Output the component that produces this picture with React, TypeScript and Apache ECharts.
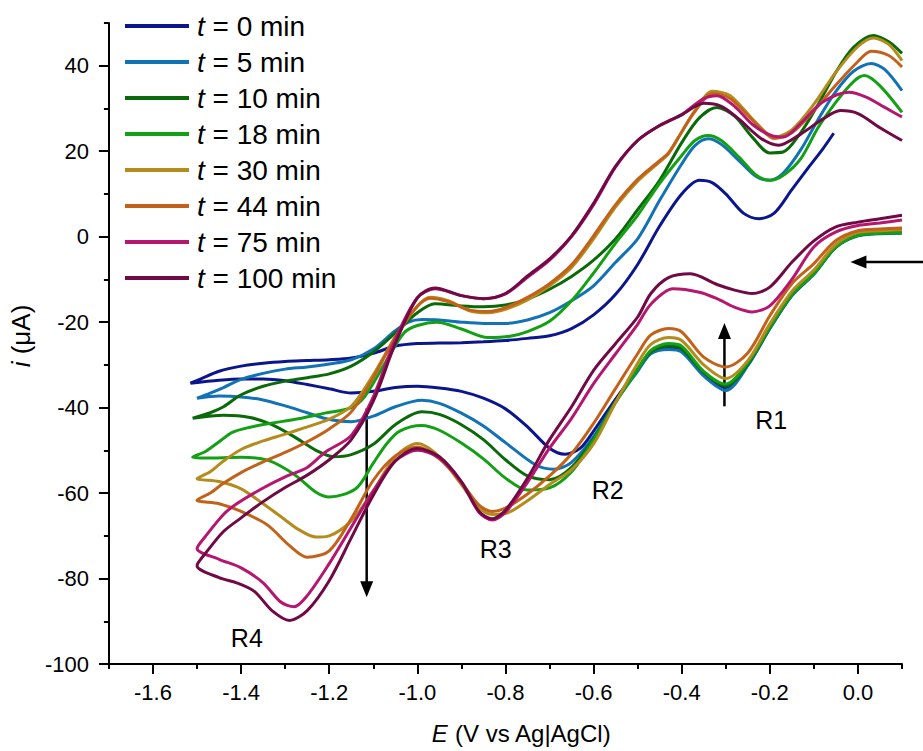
import React, { useEffect, useRef } from "react";
import * as echarts from "echarts";

const FONT = "'Liberation Sans', Arial, Helvetica, sans-serif";

const LEGEND_NAMES = ["t = 0 min", "t = 5 min", "t = 10 min", "t = 18 min", "t = 30 min", "t = 44 min", "t = 75 min", "t = 100 min"];
const COLORS = ["#0c168c", "#1272b6", "#0a6a0a", "#14a014", "#b48c1e", "#c2621a", "#b5166e", "#700a45"];

// forward (cathodic) branch, from 0.1 V to -1.5 V : [E (V), i (µA)]
const T0_FWD = [[0.1, 1.0], [0.05, 0.8], [0.0, 0.3], [-0.05, -2.4], [-0.1, -8.7], [-0.15, -13.8], [-0.2, -21.5], [-0.25, -30], [-0.3, -35.3], [-0.35, -32], [-0.4, -26.6], [-0.43, -26], [-0.47, -27.2], [-0.5, -31], [-0.55, -38], [-0.6, -45.5], [-0.63, -49.5], [-0.665, -50.9], [-0.7, -49.5], [-0.75, -44.5], [-0.8, -40.3], [-0.85, -37.8], [-0.9, -36.2], [-0.95, -35.4], [-1.0, -35], [-1.05, -35.3], [-1.1, -36.2], [-1.15, -36.6], [-1.2, -35.6], [-1.25, -34.6], [-1.3, -33.7], [-1.35, -33.3], [-1.4, -33.3], [-1.45, -33.6], [-1.515, -34.3]];
const T0_REV = [[-1.49, -33.2], [-1.45, -31.5], [-1.4, -30.3], [-1.35, -29.6], [-1.3, -29.2], [-1.25, -29], [-1.2, -28.8], [-1.15, -28.4], [-1.1, -27.3], [-1.05, -25.6], [-1.0, -25], [-0.95, -24.9], [-0.9, -24.8], [-0.85, -24.6], [-0.8, -24.3], [-0.75, -23.8], [-0.7, -23.2], [-0.65, -21.5], [-0.6, -18.3], [-0.55, -13.5], [-0.5, -6.5], [-0.45, 2.5], [-0.4, 10], [-0.36, 13.2], [-0.33, 12.6], [-0.3, 10], [-0.26, 5.5], [-0.225, 4.2], [-0.19, 5.5], [-0.15, 11], [-0.11, 16.5], [-0.08, 20.5], [-0.055, 24.2]];

const T5_FWD = [[0.1, 0.8], [0.05, 0.7], [0.0, 0.2], [-0.05, -2.5], [-0.1, -8.8], [-0.15, -13.8], [-0.2, -21.5], [-0.25, -30.2], [-0.3, -36], [-0.35, -32.6], [-0.4, -27], [-0.43, -26.4], [-0.47, -27.4], [-0.5, -31.5], [-0.55, -38.6], [-0.6, -46.8], [-0.65, -52.8], [-0.69, -54.4], [-0.73, -53.5], [-0.8, -48.2], [-0.85, -44.3], [-0.9, -41.3], [-0.95, -39], [-0.99, -38.3], [-1.05, -39.8], [-1.1, -42], [-1.15, -43.3], [-1.2, -42.8], [-1.25, -41.2], [-1.3, -39.6], [-1.35, -38.2], [-1.4, -37.5], [-1.45, -37.3], [-1.5, -37.8]];
const T5_REV = [[-1.47, -36.6], [-1.44, -35.3], [-1.4, -33.4], [-1.35, -32], [-1.3, -31], [-1.25, -30.5], [-1.2, -29.8], [-1.15, -28.8], [-1.1, -26.3], [-1.05, -22], [-1.02, -20], [-0.99, -19.4], [-0.95, -19.5], [-0.9, -20], [-0.85, -20.3], [-0.8, -20.3], [-0.75, -19.5], [-0.7, -17.8], [-0.65, -15], [-0.6, -11.5], [-0.55, -6], [-0.5, -0.5], [-0.45, 8.5], [-0.4, 17], [-0.37, 21.3], [-0.34, 22.9], [-0.31, 21.6], [-0.27, 17.8], [-0.23, 14], [-0.2, 13.2], [-0.17, 14.8], [-0.13, 20.3], [-0.09, 27.5], [-0.05, 34], [-0.01, 38.7], [0.03, 40.5], [0.06, 39.2], [0.1, 34.2]];

const T10_FWD = [[0.1, 1.0], [0.05, 0.8], [0.0, 0.3], [-0.05, -2.4], [-0.1, -8.6], [-0.15, -13.6], [-0.2, -21.3], [-0.25, -29.8], [-0.3, -35], [-0.35, -31.8], [-0.4, -26.3], [-0.43, -25.6], [-0.47, -27], [-0.5, -31], [-0.55, -38.6], [-0.6, -47.3], [-0.65, -54], [-0.7, -56.9], [-0.75, -56], [-0.8, -52.2], [-0.85, -47.5], [-0.9, -44], [-0.95, -41.6], [-0.99, -41], [-1.05, -44], [-1.1, -48.6], [-1.15, -51], [-1.19, -51.5], [-1.23, -50], [-1.28, -46.8], [-1.33, -44], [-1.38, -42.3], [-1.44, -41.8], [-1.51, -42.5]];
const T10_REV = [[-1.47, -41.2], [-1.44, -39.8], [-1.4, -37], [-1.35, -35], [-1.3, -33.8], [-1.25, -33], [-1.2, -32.1], [-1.15, -30.3], [-1.1, -27], [-1.05, -22.5], [-1.0, -17.8], [-0.96, -15.7], [-0.9, -16.2], [-0.85, -16.4], [-0.8, -16], [-0.75, -14.6], [-0.7, -12.3], [-0.65, -9.3], [-0.6, -5.5], [-0.55, -0.5], [-0.5, 6.3], [-0.45, 13.2], [-0.4, 22], [-0.36, 27.8], [-0.32, 30.2], [-0.28, 28.2], [-0.24, 23.3], [-0.2, 19.6], [-0.17, 19.8], [-0.13, 24.3], [-0.09, 31], [-0.05, 38.5], [-0.01, 44.3], [0.035, 47.1], [0.07, 45.6], [0.1, 42.9]];

const T18_FWD = [[0.1, 0.9], [0.05, 0.8], [0.0, 0.3], [-0.05, -2.4], [-0.1, -8.6], [-0.15, -13.6], [-0.2, -21.2], [-0.25, -29.5], [-0.3, -34.5], [-0.35, -31.5], [-0.4, -25.6], [-0.43, -25], [-0.47, -26.6], [-0.5, -31], [-0.55, -38.8], [-0.6, -47.6], [-0.65, -55], [-0.7, -58.8], [-0.75, -59.3], [-0.8, -56.5], [-0.85, -52], [-0.9, -48.3], [-0.95, -45.3], [-0.99, -44.2], [-1.04, -45.5], [-1.07, -48.5], [-1.1, -53], [-1.14, -59], [-1.2, -60.9], [-1.23, -59.8], [-1.28, -55.6], [-1.34, -52.3], [-1.4, -51.6], [-1.46, -51.8], [-1.51, -51.6]];
const T18_REV = [[-1.48, -50.2], [-1.45, -48], [-1.42, -45.8], [-1.38, -44.6], [-1.34, -43.8], [-1.27, -42.6], [-1.21, -41.3], [-1.15, -40], [-1.12, -37.5], [-1.07, -29], [-1.03, -22.5], [-1.0, -20.8], [-0.955, -20], [-0.9, -21.6], [-0.84, -23.6], [-0.79, -23.3], [-0.75, -22.2], [-0.7, -19.8], [-0.65, -15], [-0.6, -8.5], [-0.55, -1.5], [-0.5, 5], [-0.45, 12.5], [-0.4, 19], [-0.37, 22.5], [-0.34, 23.7], [-0.31, 22.5], [-0.27, 18.6], [-0.23, 14.3], [-0.2, 13.2], [-0.17, 14.3], [-0.13, 18.2], [-0.09, 25.6], [-0.05, 31.5], [-0.01, 36.3], [0.015, 37.7], [0.05, 35.3], [0.1, 29.1]];

const T30_FWD = [[0.1, 1.6], [0.05, 1.4], [0.0, 1.0], [-0.05, -1.8], [-0.1, -7.8], [-0.15, -12.8], [-0.2, -20.4], [-0.25, -29], [-0.3, -33.2], [-0.35, -30], [-0.4, -24.3], [-0.43, -23.6], [-0.47, -25.2], [-0.5, -29.6], [-0.55, -38.8], [-0.6, -48.5], [-0.65, -54.5], [-0.7, -58], [-0.75, -61.8], [-0.8, -64.8], [-0.83, -65], [-0.86, -63.5], [-0.9, -58], [-0.95, -51.5], [-1.0, -48.4], [-1.05, -51.5], [-1.1, -59.5], [-1.15, -66.5], [-1.2, -70], [-1.23, -70.3], [-1.27, -68.5], [-1.31, -65.5], [-1.35, -62.5], [-1.4, -59], [-1.45, -57.3], [-1.5, -56.6]];
const T30_REV = [[-1.47, -55], [-1.44, -52.5], [-1.4, -49.8], [-1.35, -47.8], [-1.3, -46.2], [-1.25, -44.5], [-1.2, -42.7], [-1.15, -39.7], [-1.1, -32.3], [-1.05, -23.5], [-1.0, -16.3], [-0.97, -14.2], [-0.93, -15], [-0.88, -17.4], [-0.84, -17.8], [-0.8, -17], [-0.75, -14.8], [-0.7, -11.5], [-0.65, -7.2], [-0.6, -0.5], [-0.55, 7], [-0.5, 13], [-0.45, 17.5], [-0.43, 19.4], [-0.4, 24.5], [-0.37, 29.5], [-0.33, 34], [-0.29, 33], [-0.23, 26.5], [-0.19, 23.3], [-0.15, 25], [-0.1, 31], [-0.05, 38.5], [0.0, 44.5], [0.035, 46.5], [0.07, 45], [0.1, 41.2]];

const T44_FWD = [[0.1, 2.0], [0.05, 1.8], [0.0, 1.4], [-0.05, -0.9], [-0.1, -6.3], [-0.15, -11], [-0.2, -18.5], [-0.25, -27.2], [-0.3, -30.5], [-0.35, -28.2], [-0.4, -22.3], [-0.43, -21.5], [-0.47, -23], [-0.5, -27.4], [-0.55, -35.5], [-0.6, -43.7], [-0.65, -50.8], [-0.7, -56], [-0.75, -60.2], [-0.8, -63.5], [-0.83, -64.3], [-0.86, -62.8], [-0.9, -57.5], [-0.95, -52], [-1.0, -49.2], [-1.05, -51.3], [-1.1, -57], [-1.15, -66], [-1.2, -73.5], [-1.25, -75], [-1.29, -72.3], [-1.34, -67.5], [-1.4, -64.3], [-1.45, -62.5], [-1.5, -61.7]];
const T44_REV = [[-1.47, -60], [-1.44, -57.7], [-1.4, -55.2], [-1.35, -52.7], [-1.3, -50.5], [-1.25, -48], [-1.2, -45], [-1.15, -41], [-1.1, -33], [-1.05, -23.5], [-1.0, -16.3], [-0.97, -14.4], [-0.93, -15.2], [-0.88, -17.2], [-0.84, -17.5], [-0.8, -16.6], [-0.75, -14.2], [-0.7, -11], [-0.65, -6.6], [-0.6, 0.2], [-0.55, 7.5], [-0.5, 13.4], [-0.45, 17.8], [-0.43, 19.6], [-0.4, 24.5], [-0.37, 29.3], [-0.33, 33.5], [-0.29, 32.3], [-0.23, 26.3], [-0.19, 23], [-0.15, 24.3], [-0.1, 29.5], [-0.05, 35.5], [0.0, 41], [0.03, 43.4], [0.07, 42.4], [0.1, 39.7]];

const T75_FWD = [[0.1, 3.9], [0.05, 3.2], [0.0, 2.6], [-0.05, 1.1], [-0.1, -2.4], [-0.15, -10], [-0.2, -16.2], [-0.24, -17.6], [-0.28, -16.5], [-0.32, -14.5], [-0.36, -13], [-0.42, -12.2], [-0.47, -15.8], [-0.5, -20.5], [-0.55, -27.4], [-0.6, -34.4], [-0.65, -42.5], [-0.7, -49.5], [-0.75, -57.5], [-0.8, -64.5], [-0.83, -66.3], [-0.86, -64.5], [-0.9, -57.5], [-0.95, -51.8], [-1.0, -50], [-1.05, -52.5], [-1.1, -59.5], [-1.15, -68], [-1.2, -76.5], [-1.25, -84], [-1.28, -86.6], [-1.31, -85.5], [-1.35, -81], [-1.4, -77.5], [-1.45, -75.5], [-1.5, -73]];
const T75_REV = [[-1.48, -70], [-1.44, -65], [-1.41, -62.5], [-1.35, -58.8], [-1.3, -56.2], [-1.25, -54], [-1.21, -50.5], [-1.15, -46.5], [-1.1, -37.5], [-1.05, -24], [-1.0, -14.3], [-0.96, -12.2], [-0.9, -13.8], [-0.85, -14.5], [-0.8, -13.4], [-0.75, -9.5], [-0.7, -5.5], [-0.65, 0], [-0.6, 7.5], [-0.55, 16.3], [-0.5, 22.5], [-0.45, 26], [-0.4, 28.6], [-0.35, 32.3], [-0.32, 33], [-0.28, 30.5], [-0.24, 26.3], [-0.2, 23.8], [-0.17, 23.3], [-0.13, 26.5], [-0.08, 31.5], [-0.02, 33.8], [0.02, 32.6], [0.06, 30.3], [0.1, 28]];

const T100_FWD = [[0.1, 5.0], [0.05, 4.2], [0.0, 3.4], [-0.05, 2.3], [-0.1, -1], [-0.15, -6], [-0.2, -11.8], [-0.24, -13.3], [-0.28, -12.5], [-0.32, -11.2], [-0.38, -8.7], [-0.43, -9.6], [-0.47, -13.3], [-0.5, -18.8], [-0.55, -25], [-0.6, -31.3], [-0.65, -39.8], [-0.7, -47.5], [-0.75, -56.5], [-0.8, -64], [-0.83, -66], [-0.86, -64.3], [-0.9, -57.3], [-0.95, -51.5], [-1.0, -49.6], [-1.05, -52.5], [-1.1, -60.5], [-1.15, -70.5], [-1.2, -80.5], [-1.25, -87.5], [-1.29, -89.8], [-1.33, -87.5], [-1.37, -83], [-1.41, -81], [-1.45, -79.8], [-1.5, -77]];
const T100_REV = [[-1.48, -74], [-1.44, -69], [-1.4, -65.8], [-1.35, -62], [-1.3, -58.7], [-1.25, -55.8], [-1.2, -52.2], [-1.15, -47.5], [-1.1, -38.5], [-1.05, -25], [-1.0, -14.3], [-0.96, -12], [-0.9, -13.8], [-0.85, -14.5], [-0.8, -13.3], [-0.75, -9.2], [-0.7, -5.2], [-0.65, 0.2], [-0.6, 7.8], [-0.55, 16.5], [-0.5, 22.5], [-0.45, 26], [-0.4, 28.5], [-0.35, 31.2], [-0.31, 30.5], [-0.27, 27.5], [-0.22, 23], [-0.18, 21.4], [-0.13, 24], [-0.08, 27.5], [-0.04, 29.5], [0.0, 28.8], [0.05, 25.5], [0.1, 22.5]];

const CURVES = [
  [T0_FWD, T0_REV], [T5_FWD, T5_REV], [T10_FWD, T10_REV], [T18_FWD, T18_REV],
  [T30_FWD, T30_REV], [T44_FWD, T44_REV], [T75_FWD, T75_REV], [T100_FWD, T100_REV],
];

const X_LABEL_TICKS = [-1.6, -1.4, -1.2, -1.0, -0.8, -0.6, -0.4, -0.2, 0.0];
const X_MINOR_TICKS = [-1.7, -1.5, -1.3, -1.1, -0.9, -0.7, -0.5, -0.3, -0.1, 0.1];
const Y_LABEL_TICKS = [-100, -80, -60, -40, -20, 0, 20, 40];
const Y_MINOR_TICKS = [-90, -70, -50, -30, -10, 10, 30, 50];

// annotations (data coordinates)
const ARROWS = [
  { from: [-1.115, -40.2], to: [-1.115, -84.4] },
  { from: [-0.303, -39.7], to: [-0.303, -20.2] },
  { from: [0.17, -5.9], to: [-0.017, -5.9] },
];
const PEAK_LABELS = [
  { text: "R1", at: [-0.197, -43] },
  { text: "R2", at: [-0.568, -59.3] },
  { text: "R3", at: [-0.822, -73.1] },
  { text: "R4", at: [-1.387, -94] },
];

export default function App() {
  const ref = useRef<HTMLDivElement>(null);
  useEffect(() => {
    if (!ref.current) return;
    const chart = echarts.init(ref.current, undefined, { renderer: "svg" });
    const axisLine = { show: true, onZero: false, lineStyle: { color: "#000", width: 2 } };
    const option: any = {
      animation: false,
      backgroundColor: "#fff",
      textStyle: { fontFamily: FONT, color: "#000" },
      grid: { left: 103, right: 21, top: 23, bottom: 87, containLabel: false },
      legend: {
        orient: "vertical",
        left: 125,
        top: 12,
        padding: 0,
        itemGap: 8,
        itemWidth: 64,
        itemHeight: 4,
        icon: "rect",
        data: LEGEND_NAMES,
        formatter: (name: string) => "{i|t}" + name.slice(1),
        textStyle: {
          fontSize: 28,
          fontFamily: FONT,
          color: "#000",
          padding: [0, 0, 0, 3],
          rich: { i: { fontStyle: "italic", fontSize: 28, fontFamily: FONT, color: "#000" } },
        },
      },
      xAxis: [
        {
          type: "value",
          min: -1.7,
          max: 0.1,
          position: "bottom",
          axisLine,
          splitLine: { show: false },
          axisTick: { show: true, length: 10, lineStyle: { color: "#000", width: 2 }, customValues: X_LABEL_TICKS },
          axisLabel: {
            customValues: X_LABEL_TICKS,
            fontSize: 22,
            color: "#000",
            fontFamily: FONT,
            margin: 17,
            formatter: (v: number) => v.toFixed(1),
          },
          name: "{i|E} (V vs Ag|AgCl)",
          nameLocation: "middle",
          nameGap: 57,
          nameTextStyle: {
            fontSize: 24,
            color: "#000",
            fontFamily: FONT,
            padding: [0, 0, 0, 32],
            rich: { i: { fontStyle: "italic", fontSize: 24, fontFamily: FONT, color: "#000" } },
          },
        },
        {
          type: "value",
          min: -1.7,
          max: 0.1,
          position: "bottom",
          axisLine: { show: false, onZero: false },
          splitLine: { show: false },
          axisLabel: { show: false },
          axisTick: { show: true, length: 5, lineStyle: { color: "#000", width: 2 }, customValues: X_MINOR_TICKS },
        },
      ],
      yAxis: [
        {
          type: "value",
          min: -100,
          max: 50,
          position: "left",
          axisLine,
          splitLine: { show: false },
          axisTick: { show: true, length: 10, lineStyle: { color: "#000", width: 2 }, customValues: Y_LABEL_TICKS },
          axisLabel: { customValues: Y_LABEL_TICKS, fontSize: 22, color: "#000", fontFamily: FONT, margin: 20 },
          name: "{i|i} (μA)",
          nameLocation: "middle",
          nameGap: 57,
          nameRotate: 90,
          nameTextStyle: {
            fontSize: 26,
            color: "#000",
            fontFamily: FONT,
            padding: [0, 0, 0, 15],
            rich: { i: { fontStyle: "italic", fontSize: 26, fontFamily: FONT, color: "#000" } },
          },
        },
        {
          type: "value",
          min: -100,
          max: 50,
          position: "left",
          axisLine: { show: false, onZero: false },
          splitLine: { show: false },
          axisLabel: { show: false },
          axisTick: { show: true, length: 5, lineStyle: { color: "#000", width: 2 }, customValues: Y_MINOR_TICKS },
        },
      ],
      series: CURVES.map((c, k) => ({
        name: LEGEND_NAMES[k],
        type: "line",
        xAxisIndex: 0,
        yAxisIndex: 0,
        data: (c[0] as number[][]).concat(c[1] as number[][]),
        smooth: 0.3,
        showSymbol: false,
        symbol: "none",
        clip: true,
        color: COLORS[k],
        lineStyle: { color: COLORS[k], width: 3 },
        emphasis: { disabled: true },
      })),
    };
    chart.setOption(option);

    const toPx = (p: number[]) => chart.convertToPixel({ xAxisIndex: 0, yAxisIndex: 0 } as any, p) as number[];
    const graphics: any[] = [];
    ARROWS.forEach((a) => {
      const [x1, y1] = toPx(a.from);
      const [x2, y2] = toPx(a.to);
      const dx = x2 - x1;
      const dy = y2 - y1;
      const len = Math.hypot(dx, dy);
      const ux = dx / len;
      const uy = dy / len;
      const headLen = 16;
      const headW = 6.5;
      const bx = x2 - ux * headLen;
      const by = y2 - uy * headLen;
      graphics.push({
        type: "line",
        silent: true,
        shape: { x1, y1, x2: bx + ux * 2, y2: by + uy * 2 },
        style: { stroke: "#000", lineWidth: 2.5 },
      });
      graphics.push({
        type: "polygon",
        silent: true,
        shape: { points: [[x2, y2], [bx - uy * headW, by + ux * headW], [bx + uy * headW, by - ux * headW]] },
        style: { fill: "#000" },
      });
    });
    PEAK_LABELS.forEach((r) => {
      const [x, y] = toPx(r.at);
      graphics.push({
        type: "text",
        silent: true,
        x,
        y,
        style: { text: r.text, fontSize: 25, fontFamily: FONT, fill: "#000", align: "center", verticalAlign: "middle" },
      });
    });
    chart.setOption({ graphic: graphics });

    return () => chart.dispose();
  }, []);

  return (
    <div
      ref={ref}
      style={{ position: "absolute", left: 0, top: 0, width: 923, height: 751, background: "#fff" }}
    />
  );
}
